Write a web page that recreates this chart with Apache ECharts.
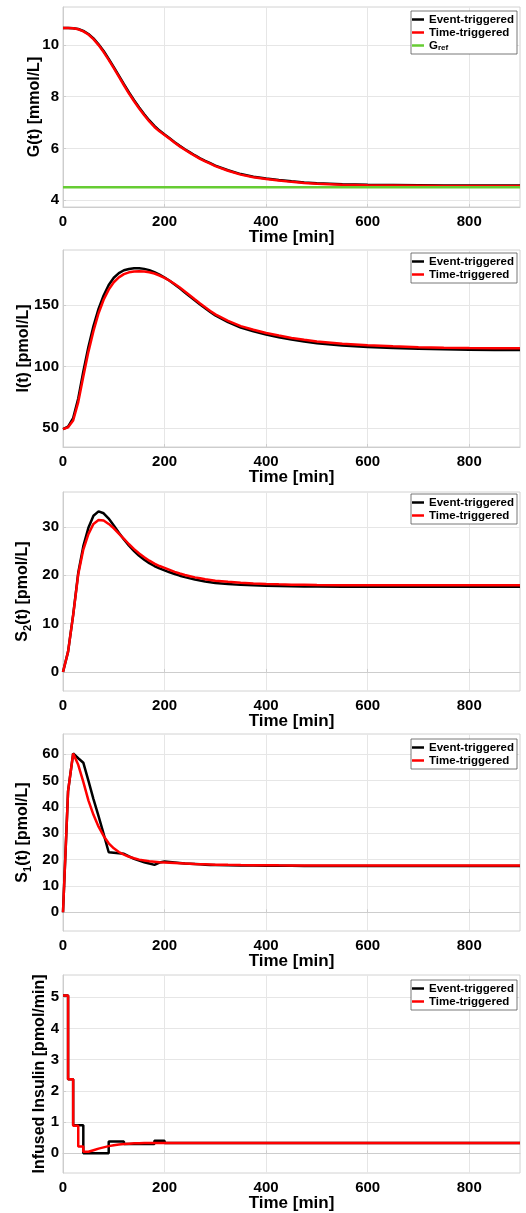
<!DOCTYPE html>
<html>
<head>
<meta charset="utf-8">
<title>Event-triggered vs time-triggered control</title>
<script src="https://cdn.jsdelivr.net/npm/echarts@6.0.0/dist/echarts.min.js"></script>
<style>
  html, body { margin: 0; padding: 0; background: #fff; }
  #chart { width: 526px; height: 1213px; }
</style>
</head>
<body>
<div id="chart"></div>
<script>
// time grid for the smooth states (min)
const tCurve = [0,10,20,30,40,50,60,70,80,90,100,110,120,130,140,150,160,170,180,190,200,
  210,220,230,240,250,260,270,280,290,300,325,350,375,400,425,450,475,500,550,600,650,700,750,800,850,900];

// G(t) [mmol/L]
const gEvent = [10.65,10.65,10.64,10.61,10.54,10.42,10.25,10.02,9.76,9.46,9.14,8.81,8.48,8.16,7.86,7.58,7.32,7.08,6.87,6.69,6.54,
  6.39,6.24,6.1,5.97,5.85,5.73,5.62,5.52,5.43,5.34,5.16,5.01,4.91,4.84,4.78,4.73,4.69,4.66,4.62,4.6,4.59,4.58,4.57,4.57,4.57,4.57];
const gTime = [10.65,10.65,10.64,10.6,10.52,10.4,10.22,9.99,9.72,9.42,9.1,8.77,8.44,8.12,7.82,7.54,7.28,7.04,6.83,6.66,6.52,
  6.37,6.22,6.08,5.95,5.83,5.71,5.6,5.5,5.41,5.32,5.14,4.99,4.89,4.82,4.76,4.71,4.67,4.64,4.6,4.58,4.57,4.56,4.55,4.55,4.55,4.55];
const gRefT = [0, 900];
const gRefV = [4.5, 4.5];

// I(t) [pmol/L]
const iEvent = [49,51,58,74,96,116,133,147,158,166.5,172.5,176.3,178.6,179.6,180.2,180.2,179.7,178.7,177.1,175.1,172.7,
  170,167,163.8,160.5,157.2,153.9,150.7,147.6,144.6,141.8,136.2,131.8,128.8,126.2,124,122.1,120.4,119.1,117.2,116,115.1,114.5,114.1,113.8,113.6,113.5];
const iTime = [49,50.5,56,71,92,112,129,143.5,154.5,162.8,168.8,172.8,175.4,176.9,177.6,177.8,177.6,177,175.9,174.3,172.4,
  170,167.4,164.5,161.3,158,154.7,151.5,148.4,145.4,142.6,137.3,133,130,127.4,125.3,123.4,121.8,120.5,118.6,117.4,116.5,115.8,115.4,115.1,115,114.9];

// S2(t) [pmol/L]
const s2Event = [0,4.2,11.8,20.5,26,29.8,32.3,33.2,32.8,31.7,30.3,28.8,27.4,26.1,25,24,23.2,22.5,21.9,21.4,21,
  20.6,20.25,19.9,19.6,19.35,19.1,18.9,18.7,18.55,18.4,18.2,18,17.9,17.8,17.75,17.7,17.67,17.65,17.6,17.6,17.6,17.6,17.6,17.6,17.6,17.6];
const s2Time = [0,4.2,11.7,20.2,25.3,28.5,30.6,31.4,31.3,30.6,29.7,28.6,27.5,26.4,25.4,24.5,23.7,23,22.4,21.9,21.5,
  21.1,20.7,20.35,20.05,19.8,19.55,19.35,19.15,19,18.85,18.63,18.45,18.3,18.2,18.12,18.05,18,17.95,17.9,17.9,17.9,17.9,17.9,17.9,17.9,17.9];

// S1(t) [pmol/L]
const s1Event = [0,46,60.3,58.5,56.8,50,43,36.5,29.8,22.8,22.6,22.4,22.2,21.2,20.3,19.6,19,18.5,18,18.9,19.3,
  19.1,18.9,18.7,18.5,18.4,18.3,18.2,18.1,18,17.95,17.87,17.8,17.75,17.7,17.67,17.65,17.62,17.6,17.6,17.6,17.6,17.6,17.6,17.6,17.6,17.6];
const s1Time = [0,46,60.3,56,49.5,42.5,37,32.5,29,26.2,24.3,22.9,21.9,21.1,20.5,20,19.7,19.4,19.2,19,18.9,
  18.8,18.7,18.6,18.5,18.4,18.3,18.25,18.2,18.15,18.1,18.02,17.95,17.9,17.85,17.82,17.8,17.77,17.75,17.75,17.75,17.75,17.75,17.75,17.75,17.75,17.75];

// infused insulin [pmol/min], zero-order hold
const uEventT = [0,10,20,40,90,120,180,200,900];
const uEventV = [5.05,2.37,0.9,0,0.38,0.3,0.4,0.33,0.33];
const uTimeT = [0,10,20,30,40,50,60,70,80,90,100,110,120,130,140,150,160,170,180,190,200,900];
const uTimeV = [5.05,2.37,0.88,0.22,0.05,0.1,0.15,0.19,0.23,0.26,0.28,0.3,0.31,0.32,0.32,0.33,0.33,0.33,0.33,0.33,0.33,0.33];

// tick labels
const xTicks = [0,200,400,600,800];
const gTicks = [4,6,8,10];
const iTicks = [50,100,150];
const s2Ticks = [0,10,20,30];
const s1Ticks = [0,10,20,30,40,50,60];
const uTicks = [0,1,2,3,4,5];

const FONT = '"Liberation Sans", Arial, Helvetica, sans-serif';

function pairs(t, v) {
  return t.map((x, i) => [x, v[i]]);
}

const panels = [
  {top: 7, height: 200, min: 3.74, max: 11.46, ticks: gTicks, name: 'G(t) [mmol/L]', gap: 20, legendTop: 11,
   series: [['Event-triggered', tCurve, gEvent, '#000000'], ['Time-triggered', tCurve, gTime, '#ff0000'], ['G_ref', gRefT, gRefV, '#66cc33']]},
  {top: 250, height: 197, min: 34.4, max: 195.1, ticks: iTicks, name: 'I(t) [pmol/L]', gap: 31, legendTop: 253,
   series: [['Event-triggered', tCurve, iEvent, '#000000'], ['Time-triggered', tCurve, iTime, '#ff0000']]},
  {top: 492, height: 199, min: -3.94, max: 37.2, ticks: s2Ticks, name: '{b|S}{sub|2}{b|(t) [pmol/L]}', gap: 30, legendTop: 494,
   series: [['Event-triggered', tCurve, s2Event, '#000000'], ['Time-triggered', tCurve, s2Time, '#ff0000']]},
  {top: 734, height: 197, min: -7.1, max: 67.7, ticks: s1Ticks, name: '{b|S}{sub|1}{b|(t) [pmol/L]}', gap: 30, legendTop: 739,
   series: [['Event-triggered', tCurve, s1Event, '#000000'], ['Time-triggered', tCurve, s1Time, '#ff0000']]},
  {top: 975, height: 198, min: -0.63, max: 5.71, ticks: uTicks, name: 'Infused Insulin [pmol/min]', gap: 15, legendTop: 980, step: 'end',
   series: [['Event-triggered', uEventT, uEventV, '#000000'], ['Time-triggered', uTimeT, uTimeV, '#ff0000']]}
];

const labelStyle = {fontFamily: FONT, fontSize: 15, fontWeight: 'bold', color: '#000'};
const nameStyle = {
  fontFamily: FONT, fontSize: 16, fontWeight: 'bold', color: '#000',
  rich: {
    b: {fontFamily: FONT, fontSize: 16, fontWeight: 'bold', color: '#000', lineHeight: 20},
    sub: {fontFamily: FONT, fontSize: 11, fontWeight: 'bold', color: '#000', lineHeight: 12, verticalAlign: 'bottom'}
  }
};

const option = {
  animation: false,
  backgroundColor: '#fff',
  grid: [], xAxis: [], yAxis: [], legend: [], series: []
};

panels.forEach((p, k) => {
  option.grid.push({left: 63, right: 6, top: p.top, height: p.height, show: true,
    borderColor: '#d2d2d2', borderWidth: 1, backgroundColor: '#fff'});
  option.xAxis.push({
    type: 'value', gridIndex: k, min: 0, max: 900,
    name: 'Time [min]', nameLocation: 'middle', nameGap: 22, nameMoveOverlap: false,
    nameTextStyle: Object.assign({}, nameStyle, {fontSize: 17}),
    axisLine: {lineStyle: {color: '#cdcdcd'}},
    axisTick: {inside: true, length: 3, customValues: xTicks, lineStyle: {color: '#cdcdcd'}},
    axisLabel: Object.assign({customValues: xTicks, margin: 7}, labelStyle),
    splitLine: {show: true, lineStyle: {color: '#e6e6e6', width: 1}}
  });
  option.yAxis.push({
    type: 'value', gridIndex: k, min: p.min, max: p.max,
    name: p.name, nameLocation: 'middle', nameGap: p.gap, nameMoveOverlap: false, nameTextStyle: nameStyle,
    axisLine: {show: true, lineStyle: {color: '#cdcdcd'}},
    axisTick: {show: true, inside: true, length: 3, customValues: p.ticks, lineStyle: {color: '#cdcdcd'}},
    axisLabel: Object.assign({customValues: p.ticks, margin: 4}, labelStyle),
    splitLine: {show: true, lineStyle: {color: '#e6e6e6', width: 1}}
  });
  option.legend.push({
    top: p.legendTop, right: 9, orient: 'vertical',
    data: p.series.map(s => s[0]),
    icon: 'rect', itemWidth: 12, itemHeight: 2.5, itemGap: 0,
    padding: [2, 3, 2, 1],
    backgroundColor: '#fff', borderColor: '#555', borderWidth: 0.8,
    selectedMode: false,
    formatter: name => name === 'G_ref' ? '{g|G}{sub|ref}' : name,
    textStyle: {
      fontFamily: FONT, fontSize: 11.5, fontWeight: 'bold', color: '#000', lineHeight: 13,
      rich: {
        g: {fontFamily: FONT, fontSize: 11.5, fontWeight: 'bold', color: '#000', lineHeight: 13},
        sub: {fontFamily: FONT, fontSize: 8, fontWeight: 'bold', color: '#000', lineHeight: 8, verticalAlign: 'bottom', padding: [4, 0, 0, 0]}
      }
    }
  });
  p.series.forEach(s => {
    option.series.push({
      name: s[0], type: 'line', xAxisIndex: k, yAxisIndex: k,
      data: pairs(s[1], s[2]),
      step: p.step || false,
      showSymbol: false, symbol: 'none',
      lineStyle: {color: s[3], width: 2.5},
      itemStyle: {color: s[3]},
      emphasis: {disabled: true}
    });
  });
});

const chart = echarts.init(document.getElementById('chart'));
chart.setOption(option);
</script>
</body>
</html>
